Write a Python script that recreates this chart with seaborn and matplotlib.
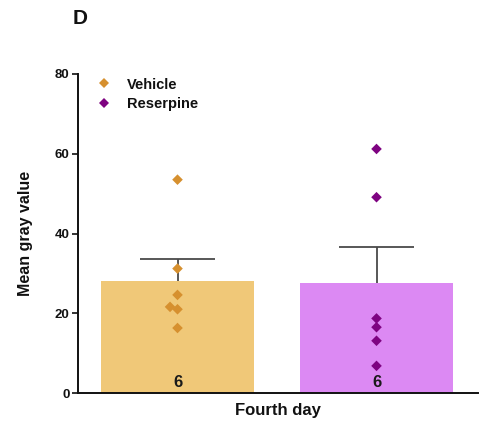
import numpy as np
import pandas as pd
import matplotlib
matplotlib.use("Agg")
import matplotlib.pyplot as plt
from matplotlib.lines import Line2D
import seaborn as sns

# Mean gray value per animal, fourth day
groups = ["Vehicle", "Reserpine"]
vehicle = [53.5, 31.2, 24.6, 21.6, 21.0, 16.3]
reserpine = [61.2, 49.1, 18.7, 16.5, 13.1, 6.8]
day_label = "Fourth day"
y_ticks = [0, 20, 40, 60, 80]

bar_colors = {"Vehicle": "#F0C878", "Reserpine": "#DC89F3"}
dot_colors = {"Vehicle": "#D6902F", "Reserpine": "#7E0381"}

df = pd.DataFrame({
    "group": ["Vehicle"] * len(vehicle) + ["Reserpine"] * len(reserpine),
    "value": vehicle + reserpine,
})

sns.set_style("ticks")
plt.rcParams["font.family"] = ["Liberation Sans", "DejaVu Sans"]
plt.rcParams["font.weight"] = "bold"
plt.rcParams["text.color"] = "#111111"
plt.rcParams["axes.labelcolor"] = "#111111"
plt.rcParams["ytick.labelcolor"] = "#111111"

fig = plt.figure(figsize=(4.83, 4.25), dpi=100)
ax = fig.add_axes([78 / 483, 1 - 393 / 425, 400 / 483, (393 - 74) / 425])

sns.barplot(data=df, x="group", y="value", hue="group", order=groups,
            palette=bar_colors, saturation=1, errorbar=None, width=0.77,
            ax=ax, legend=False, zorder=1, linewidth=0)

# upward-only SEM whiskers
stats = df.groupby("group")["value"].agg(["mean", "sem"]).loc[groups]
xpos = np.arange(len(groups))
tops = stats["mean"] + stats["sem"]
ax.vlines(xpos, stats["mean"], tops, color="#4a4a4a", lw=1.3, zorder=2)
ax.hlines(tops, xpos - 0.19, xpos + 0.19, color="#4a4a4a", lw=1.3, zorder=2)

sns.swarmplot(data=df, x="group", y="value", hue="group", order=groups,
              palette=dot_colors, marker="D", size=5.4, ax=ax,
              legend=False, zorder=3, linewidth=0)

# group sizes inside the bars
for i, g in enumerate(groups):
    n = int((df["group"] == g).sum())
    ax.text(i, 1.4, str(n), ha="center", va="baseline", fontsize=12,
            fontweight="bold", color="#1a1a1a", zorder=4)

ax.set_xlim(-0.5, 1.51)
ax.set_ylim(0, 80)
ax.set_yticks(y_ticks)
ax.set_yticklabels([str(t) for t in y_ticks], fontsize=9.5, fontweight="bold")
ax.set_xticks([])
ax.set_xlabel(day_label, fontsize=12, fontweight="bold", labelpad=7)
ax.set_ylabel("Mean gray value", fontsize=11.5, fontweight="bold", labelpad=16)
ax.tick_params(axis="y", length=4, width=1.2, pad=2, color="#111111")
for side in ("top", "right"):
    ax.spines[side].set_visible(False)
for side in ("left", "bottom"):
    ax.spines[side].set_linewidth(1.4)
    ax.spines[side].set_color("#111111")

handles = [Line2D([], [], marker="D", linestyle="none", markersize=5.4,
                  markerfacecolor=dot_colors[g], markeredgewidth=0, label=g)
           for g in groups]
ax.legend(handles=handles, loc="upper left", frameon=False,
          bbox_to_anchor=(-0.005, 1.03), handletextpad=0.6,
          labelspacing=0.35, prop={"size": 10.5, "weight": "bold"})

fig.text(73 / 483, 1 - 18 / 425, "D", fontsize=15, fontweight="bold",
         va="center", ha="left")

fig.savefig("out.png", dpi=100, facecolor="white")
